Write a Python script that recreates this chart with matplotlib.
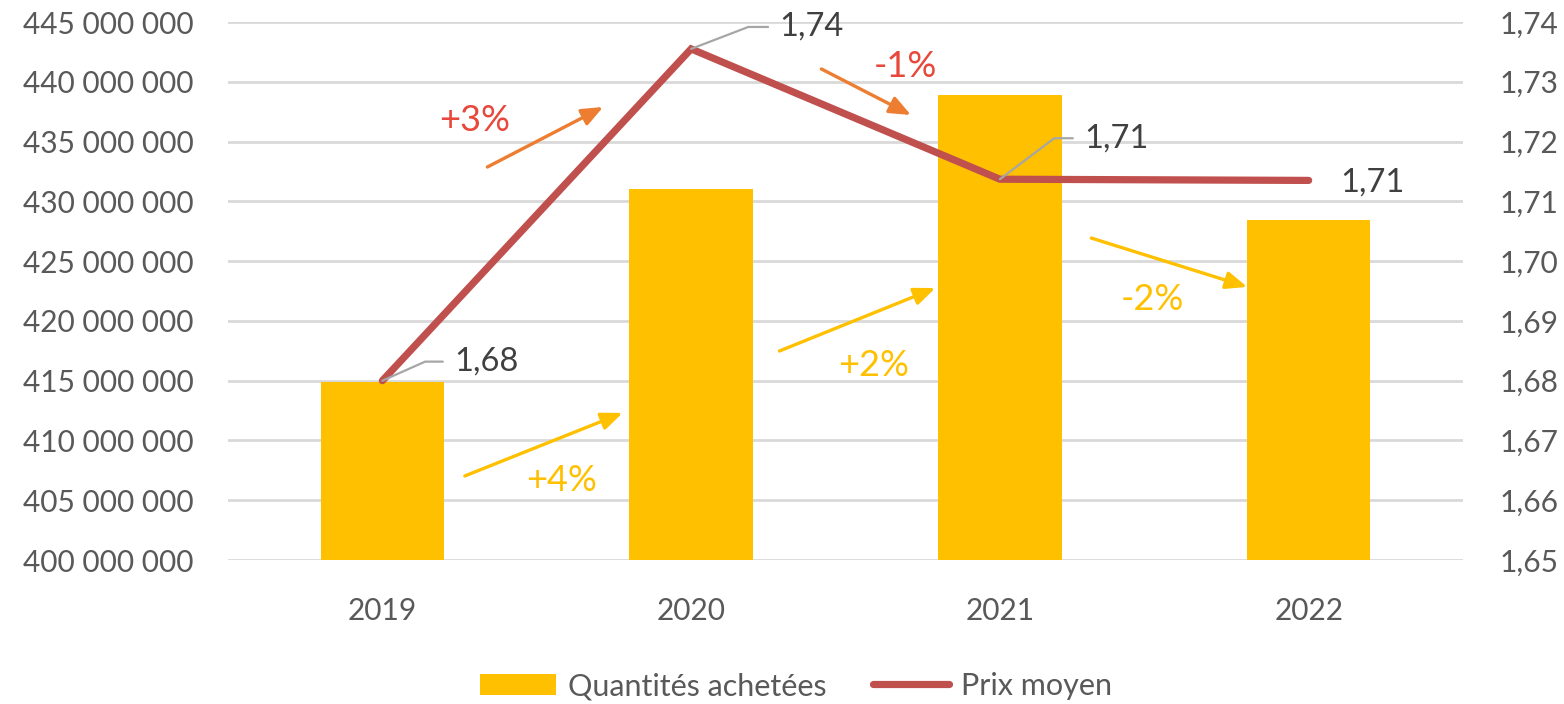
import matplotlib
matplotlib.use("Agg")
import matplotlib.pyplot as plt
from matplotlib.ticker import FuncFormatter, MultipleLocator
from matplotlib.patches import Patch
from matplotlib.lines import Line2D

plt.rcParams['font.family'] = ['Lato', 'DejaVu Sans']

# ---- data ----
years = ["2019", "2020", "2021", "2022"]
quantites = [414.9e6, 431.0e6, 438.9e6, 428.4e6]
prix = [1.680, 1.7355, 1.7137, 1.7135]
prix_labels = ["1,68", "1,74", "1,71", "1,71"]

# evolution annotations (text, start, end, label position) in data coords (x index, left-axis value)
prix_evol = ["+3%", "-1%"]
prix_arrow_start = [(0.34, 432.87e6), (1.422, 441.07e6)]
prix_arrow_end = [(0.715, 437.89e6), (1.712, 437.22e6)]
prix_text_pos = [(0.30, 436.8e6), (1.694, 441.24e6)]

qte_evol = ["+4%", "+2%", "-2%"]
qte_arrow_start = [(0.267, 407.03e6), (1.286, 417.48e6), (2.296, 426.93e6)]
qte_arrow_end = [(0.778, 412.30e6), (1.791, 422.75e6), (2.801, 422.84e6)]
qte_text_pos = [(0.579, 406.69e6), (1.591, 416.31e6), (2.495, 421.83e6)]

# ---- style ----
YELLOW = "#FFC000"
RED_LINE = "#C0504D"
ORANGE = "#ED7D31"
RED_TXT = "#E8483B"
GRID = "#D9D9D9"
TICK = "#595959"
LABEL = "#404040"

fig = plt.figure(figsize=(15.64, 7.04), dpi=100)
ax = fig.add_axes([228/1564, 1-560/704, (1463-228)/1564, (560-22)/704])
ax2 = ax.twinx()

x = list(range(len(years)))
ax.bar(x, quantites, width=0.4, color=YELLOW, zorder=2)
ax.set_xlim(-0.5, 3.5)
ax.set_ylim(400e6, 445e6)
ax.yaxis.set_major_locator(MultipleLocator(5e6))
ax.yaxis.set_major_formatter(FuncFormatter(lambda v, p: f"{int(round(v)):,}".replace(",", " ")))
ax.grid(axis='y', color=GRID, linewidth=2.0, zorder=0)
ax.set_axisbelow(True)
ax.set_xticks(x)
ax.set_xticklabels(years)

ax2.plot(x, prix, color=RED_LINE, linewidth=5.2, solid_capstyle='round',
         solid_joinstyle='miter', zorder=3)
ax2.set_ylim(1.65, 1.74)
ax2.yaxis.set_major_locator(MultipleLocator(0.01))
ax2.yaxis.set_major_formatter(FuncFormatter(lambda v, p: f"{v:.2f}".replace(".", ",")))

for a in (ax, ax2):
    for s in a.spines.values():
        s.set_visible(False)
    a.tick_params(length=0, labelsize=21.5, colors=TICK)
ax.tick_params(axis='y', pad=25)
ax.tick_params(axis='x', pad=27)
ax2.tick_params(axis='y', pad=26)

# data labels with leader lines
offsets = [(51.5, 13.7), (63.4, 15.8), (60.5, 29.5), (23.0, -1.4)]
leader_angles = [24, 21, 37, None]
for i, (lab, off, ang) in enumerate(zip(prix_labels, offsets, leader_angles)):
    kw = {}
    if ang is not None:
        kw['arrowprops'] = dict(arrowstyle='-', color='#A6A6A6', lw=1.6,
                                connectionstyle=f"angle,angleA=0,angleB={ang},rad=0",
                                relpos=(0, 0.5), shrinkA=6, shrinkB=0)
    ax2.annotate(lab, xy=(x[i], prix[i]), xytext=off, textcoords='offset points',
                 ha='left', va='center', fontsize=23.5, color=LABEL, zorder=5, **kw)

ARROW = '-|>,head_length=0.8,head_width=0.33'

# evolution arrows
for t, s, e, p in zip(prix_evol, prix_arrow_start, prix_arrow_end, prix_text_pos):
    ax2.annotate("", xy=e, xytext=s, xycoords=ax.transData, textcoords=ax.transData,
                 arrowprops=dict(arrowstyle=ARROW, color=ORANGE,
                                 lw=2.4, shrinkA=0, shrinkB=0, mutation_scale=16))
    ax2.text(p[0], p[1], t, transform=ax.transData, ha='center', va='center',
             fontsize=26, color=RED_TXT)

for t, s, e, p in zip(qte_evol, qte_arrow_start, qte_arrow_end, qte_text_pos):
    ax2.annotate("", xy=e, xytext=s, xycoords=ax.transData, textcoords=ax.transData,
                 arrowprops=dict(arrowstyle=ARROW, color=YELLOW,
                                 lw=2.4, shrinkA=0, shrinkB=0, mutation_scale=16))
    ax2.text(p[0], p[1], t, transform=ax.transData, ha='center', va='center',
             fontsize=26, color=YELLOW)

# legend
handles = [Patch(facecolor=YELLOW, edgecolor='none'),
           Line2D([0], [0], color=RED_LINE, lw=5.2, solid_capstyle='round')]
leg = fig.legend(handles, ["Quantités achetées", "Prix moyen"], loc='center',
                 bbox_to_anchor=(796/1564, 1-686/704), ncol=2, frameon=False,
                 fontsize=22, handlelength=2.5, handletextpad=0.4, columnspacing=1.5,
                 labelcolor=TICK)

fig.savefig("out.png", dpi=100)
